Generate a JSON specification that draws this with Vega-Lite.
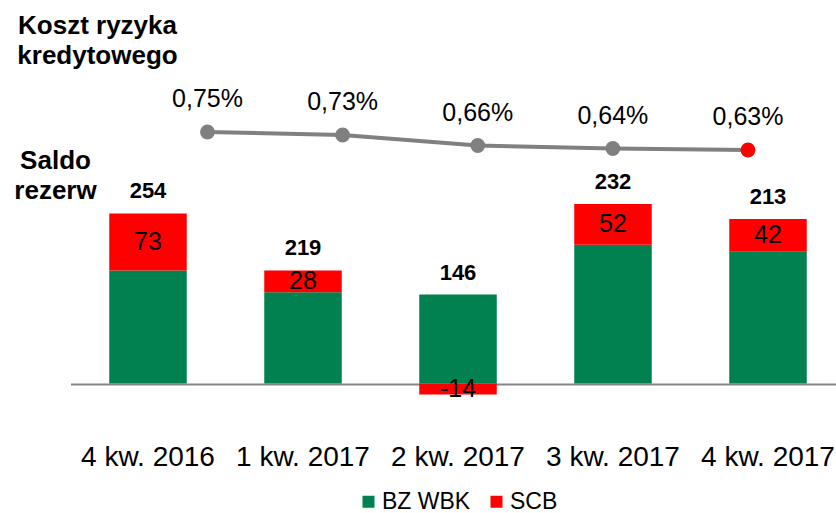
{
  "$schema": "https://vega.github.io/schema/vega-lite/v6.json",
  "width": 836,
  "height": 513,
  "autosize": {"type": "none"},
  "padding": 0,
  "background": "white",
  "config": {
    "view": {"stroke": null},
    "font": "Liberation Sans",
    "locale": {"number": {"decimal": ",", "thousands": " ", "grouping": [3], "currency": ["", " zł"], "minus": "-"}}
  },
  "datasets": {
    "saldo": [
      {"quarter": "4 kw. 2016", "series": "BZ WBK", "value": 145},
      {"quarter": "4 kw. 2016", "series": "SCB", "value": 73},
      {"quarter": "1 kw. 2017", "series": "BZ WBK", "value": 117},
      {"quarter": "1 kw. 2017", "series": "SCB", "value": 28},
      {"quarter": "2 kw. 2017", "series": "BZ WBK", "value": 114},
      {"quarter": "2 kw. 2017", "series": "SCB", "value": -14},
      {"quarter": "3 kw. 2017", "series": "BZ WBK", "value": 178},
      {"quarter": "3 kw. 2017", "series": "SCB", "value": 52},
      {"quarter": "4 kw. 2017", "series": "BZ WBK", "value": 169},
      {"quarter": "4 kw. 2017", "series": "SCB", "value": 42}
    ],
    "totals": [
      {"quarter": "4 kw. 2016", "total": 254},
      {"quarter": "1 kw. 2017", "total": 219},
      {"quarter": "2 kw. 2017", "total": 146},
      {"quarter": "3 kw. 2017", "total": 232},
      {"quarter": "4 kw. 2017", "total": 213}
    ],
    "cost": [
      {"quarter": "4 kw. 2016", "rate": 0.0075},
      {"quarter": "1 kw. 2017", "rate": 0.0073},
      {"quarter": "2 kw. 2017", "rate": 0.0066},
      {"quarter": "3 kw. 2017", "rate": 0.0064},
      {"quarter": "4 kw. 2017", "rate": 0.0063}
    ]
  },
  "layer": [
    {
      "data": {"name": "saldo"},
      "encoding": {
        "x": {
          "field": "quarter", "type": "nominal", "sort": null,
          "scale": {"range": [70.5, 845.5], "paddingInner": 0.5, "paddingOuter": 0.25},
          "axis": {
            "title": null, "orient": "bottom", "offset": -129,
            "domainColor": "#868686", "domainWidth": 2,
            "ticks": false, "tickSize": 0, "labelPadding": 81, "labelBaseline": "alphabetic",
            "labelFontSize": 28, "labelColor": "#000000", "labelFont": "Liberation Sans",
            "labelAngle": 0, "grid": false
          }
        },
        "order": {"field": "series", "type": "nominal", "sort": "ascending"}
      },
      "layer": [
        {
          "mark": {"type": "bar"},
          "encoding": {
            "y": {
              "field": "value", "type": "quantitative", "stack": "zero",
              "scale": {"domain": [0, 100], "range": [383.5, 305.5], "nice": false},
              "axis": {
                "orient": "left", "labels": false, "ticks": false, "domain": false, "grid": false,
                "title": ["Saldo", "rezerw"], "titleAngle": 0, "titleAlign": "center",
                "titleBaseline": "alphabetic", "titleX": 55, "titleY": 168,
                "titleFontSize": 26, "titleFontWeight": "bold", "titleColor": "#000000",
                "titleLineHeight": 30, "titleFont": "Liberation Sans"
              }
            },
            "color": {
              "field": "series", "type": "nominal",
              "scale": {"domain": ["BZ WBK", "SCB"], "range": ["#00814f", "#ff0000"]},
              "legend": {
                "title": null, "orient": "none", "legendX": 357, "legendY": 490,
                "direction": "horizontal", "symbolType": "square", "symbolSize": 144,
                "symbolStrokeWidth": 0, "labelFontSize": 23, "labelColor": "#000000",
                "labelFont": "Liberation Sans", "labelOffset": 2, "columnPadding": 14, "padding": 0
              }
            }
          }
        },
        {
          "mark": {"type": "text", "fontSize": 25, "color": "#000000", "baseline": "middle"},
          "encoding": {
            "y": {"field": "value", "type": "quantitative", "stack": "zero", "bandPosition": 0.5},
            "text": {"condition": {"test": "datum.series === 'SCB'", "field": "value", "type": "quantitative"}, "value": ""}
          }
        },
        {
          "transform": [
            {"stack": "value", "groupby": ["quarter"], "sort": [{"field": "series", "order": "ascending"}], "as": ["v0", "v1"]},
            {"aggregate": [{"op": "max", "field": "v1", "as": "top"}], "groupby": ["quarter"]},
            {"lookup": "quarter", "from": {"data": {"name": "totals"}, "key": "quarter", "fields": ["total"]}}
          ],
          "mark": {"type": "text", "fontSize": 22, "fontWeight": "bold", "color": "#000000", "baseline": "middle", "dy": -22},
          "encoding": {
            "y": {"field": "top", "type": "quantitative"},
            "text": {"field": "total", "type": "quantitative"},
            "order": null
          }
        }
      ]
    },
    {
      "data": {"name": "cost"},
      "encoding": {
        "x": {
          "field": "quarter", "type": "ordinal", "sort": null,
          "scale": {"type": "point", "range": [207.5, 748], "padding": 0},
          "axis": null
        },
        "y": {
          "field": "rate", "type": "quantitative",
          "scale": {"domain": [0.0063, 0.0075], "range": [150, 132], "nice": false, "zero": false},
          "axis": {
            "orient": "right", "labels": false, "ticks": false, "domain": false, "grid": false,
            "title": ["Koszt ryzyka", "kredytowego"], "titleAngle": 0, "titleAlign": "center",
            "titleBaseline": "alphabetic", "titleX": -739, "titleY": 33,
            "titleFontSize": 26, "titleFontWeight": "bold", "titleColor": "#000000",
            "titleLineHeight": 30, "titleFont": "Liberation Sans"
          }
        }
      },
      "layer": [
        {"mark": {"type": "line", "color": "#808080", "strokeWidth": 4}},
        {
          "mark": {"type": "circle", "size": 220, "opacity": 1},
          "encoding": {
            "color": {
              "condition": {"test": "datum.quarter === '4 kw. 2017'", "value": "#ff0000"},
              "value": "#808080"
            }
          }
        },
        {
          "mark": {"type": "text", "fontSize": 25, "color": "#000000", "baseline": "middle", "dy": -33},
          "encoding": {"text": {"field": "rate", "type": "quantitative", "format": ".2%"}}
        }
      ]
    }
  ],
  "resolve": {
    "scale": {"x": "independent", "y": "independent", "color": "independent"},
    "axis": {"x": "independent", "y": "independent"}
  }
}
